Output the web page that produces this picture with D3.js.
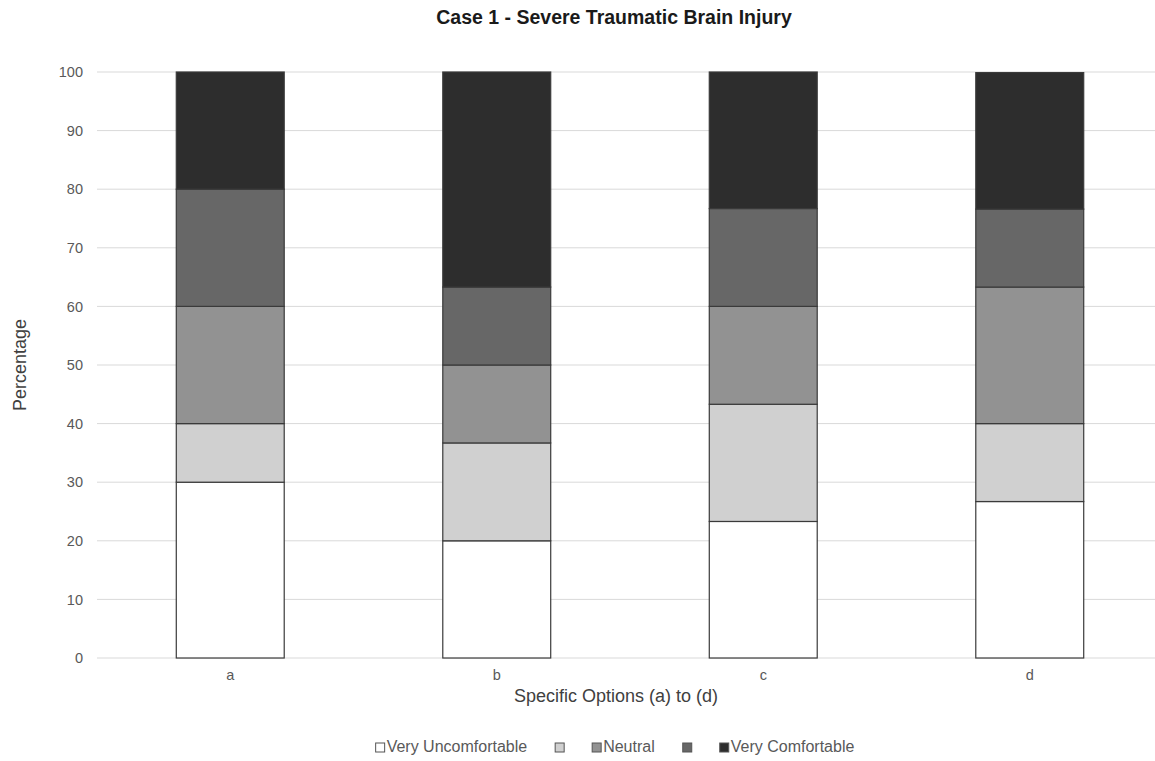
<!DOCTYPE html>
<meta charset='utf-8'>
<html>
<head>
<script src="https://d3js.org/d3.v7.min.js"></script>
<style>
  body { margin: 0; background: #fff; }
  text { font-family: "Liberation Sans", Arial, sans-serif; }
</style>
</head>
<body>
<div id="chart-container"></div>
<script>
// categories and series (percentages)
const options = ['a', 'b', 'c', 'd'];
const seriesNames = ['Very Uncomfortable', '', 'Neutral', '', 'Very Comfortable'];
const veryUncomfortable = [30, 20, 23.3, 26.7];
const uncomfortable = [10, 16.7, 20, 13.3];
const neutral = [20, 13.3, 16.7, 23.3];
const comfortable = [20, 13.3, 16.7, 13.3];
const veryComfortable = [20, 36.7, 23.3, 23.3];
const yTicks = [0, 10, 20, 30, 40, 50, 60, 70, 80, 90, 100];
const colours = ['#ffffff', '#d0d0d0', '#929292', '#676767', '#2d2d2d'];

const svgWidth = 1155;
const svgHeight = 761;

// plot area
const margin = {top: 72, left: 97, bottom: 103, right: -8};
const w = svgWidth - margin.left - margin.right;
const h = svgHeight - margin.top - margin.bottom;

const svg = d3.select('#chart-container')
    .append('svg')
    .attr('width', svgWidth)
    .attr('height', svgHeight);

// build rows for d3.stack
const keys = ['s0', 's1', 's2', 's3', 's4'];
const columns = [veryUncomfortable, uncomfortable, neutral, comfortable, veryComfortable];
const rows = options.map(function(o, i) {
    const r = {option: o};
    keys.forEach(function(k, j) { r[k] = columns[j][i]; });
    return r;
});
const stacked = d3.stack().keys(keys)(rows);

const xScale = d3.scaleBand()
    .domain(options)
    .range([0, w])
    .paddingInner(0.595)
    .paddingOuter(0.2975);

const yScale = d3.scaleLinear()
    .domain([0, 100])
    .range([h, 0]);

const chart = svg.append('g')
    .attr('transform', 'translate(' + margin.left + ',' + margin.top + ')');

// gridlines
chart.append('g')
    .selectAll('line')
    .data(yTicks)
    .enter().append('line')
    .attr('x1', 0)
    .attr('x2', w)
    .attr('y1', function(d) { return yScale(d); })
    .attr('y2', function(d) { return yScale(d); })
    .attr('stroke', '#d9d9d9')
    .attr('stroke-width', 1);

// y axis labels
const yAxis = chart.append('g')
    .attr('transform', 'translate(-6,0)')
    .call(d3.axisLeft(yScale).tickValues(yTicks).tickSize(0).tickPadding(8));
yAxis.select('.domain').remove();
yAxis.selectAll('text')
    .style('font-size', '14.5px')
    .attr('fill', '#595959');

// stacked bars
chart.append('g')
    .selectAll('g')
    .data(stacked)
    .enter().append('g')
    .attr('fill', function(d, i) { return colours[i]; })
    .selectAll('rect')
    .data(function(d) { return d; })
    .enter().append('rect')
    .attr('x', function(d) { return xScale(d.data.option); })
    .attr('width', xScale.bandwidth())
    .attr('y', function(d) { return yScale(d[1]); })
    .attr('height', function(d) { return yScale(d[0]) - yScale(d[1]); })
    .attr('stroke', '#3a3a3a')
    .attr('stroke-width', 1.2);

// x axis labels
const xAxis = chart.append('g')
    .attr('transform', 'translate(0,' + h + ')')
    .call(d3.axisBottom(xScale).tickSize(0).tickPadding(12));
xAxis.select('.domain').remove();
xAxis.selectAll('text')
    .style('font-size', '14.5px')
    .attr('fill', '#595959');

// title
svg.append('text')
    .attr('x', 614)
    .attr('y', 24)
    .attr('text-anchor', 'middle')
    .style('font-size', '19.5px')
    .style('font-weight', 'bold')
    .attr('fill', '#1a1a1a')
    .text('Case 1 - Severe Traumatic Brain Injury');

// axis titles
svg.append('text')
    .attr('x', 616)
    .attr('y', 702)
    .attr('text-anchor', 'middle')
    .style('font-size', '18px')
    .attr('fill', '#404040')
    .text('Specific Options (a) to (d)');

svg.append('text')
    .attr('transform', 'translate(26,365) rotate(-90)')
    .attr('text-anchor', 'middle')
    .style('font-size', '18px')
    .attr('fill', '#404040')
    .text('Percentage');

// legend
const legend = svg.append('g').attr('transform', 'translate(0,752)');
const items = legend.selectAll('g')
    .data(seriesNames)
    .enter().append('g');
items.append('rect')
    .attr('width', 9)
    .attr('height', 9)
    .attr('y', -9)
    .attr('fill', function(d, i) { return colours[i]; })
    .attr('stroke', '#555')
    .attr('stroke-width', 1);
items.append('text')
    .attr('x', 11)
    .attr('y', 0)
    .style('font-size', '16px')
    .attr('fill', '#595959')
    .text(function(d) { return d; });

// place items side by side, centred
const gap = 28;
let cursor = 0;
const offsets = [];
items.each(function(d) {
    const tw = d ? d3.select(this).select('text').node().getComputedTextLength() + 2 : 0;
    offsets.push(cursor);
    cursor += 9 + tw + gap;
});
const total = cursor - gap;
const startX = 615 - total / 2;
items.attr('transform', function(d, i) { return 'translate(' + (startX + offsets[i]) + ',0)'; });
</script>
</body>
</html>
